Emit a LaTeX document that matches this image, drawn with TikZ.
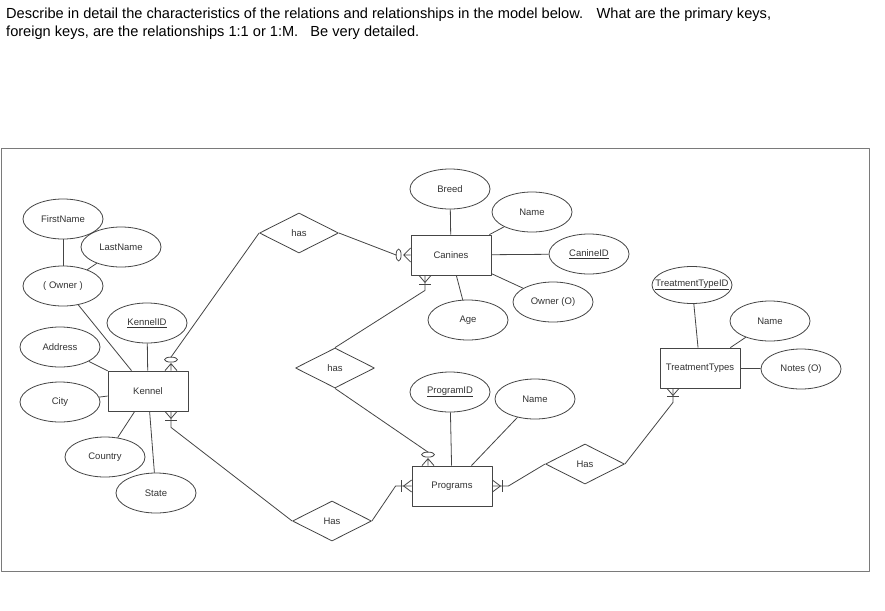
\documentclass[tikz,border=0pt]{standalone}
\usepackage{fontspec}
\setmainfont{Liberation Sans}
\usetikzlibrary{shapes.geometric,calc}
\definecolor{linec}{HTML}{454545}
\definecolor{txtc}{HTML}{333333}
\definecolor{framec}{HTML}{7A7A7A}
\begin{document}
\begin{tikzpicture}[x=1pt,y=-1pt, line join=round,
  every node/.style={font=\fontsize{9.5}{11}\selectfont, text=txtc},
  attr/.style={ellipse, draw=linec, line width=0.8pt, minimum width=80pt, minimum height=40pt, inner sep=0pt},
  ent/.style={rectangle, draw=linec, line width=0.8pt, minimum width=80pt, minimum height=40pt, inner sep=0pt},
  rel/.style={diamond, draw=linec, line width=0.8pt, minimum width=79pt, minimum height=40pt, inner sep=0pt, aspect=2},
  conn/.style={draw=linec, line width=0.8pt},
  hdr/.style={font=\fontsize{14.6}{18}\selectfont, text=black, anchor=base west, inner sep=0pt}]
\useasboundingbox (0,0) rectangle (885,610);
\fill[white] (0,0) rectangle (885,610);

% header
\node[hdr] (h1) at (6,19) {Describe in detail the characteristics of the relations and relationships in the model below.~~ What are the primary keys,};
\node[hdr] (h2) at (6,37) {foreign keys, are the relationships 1:1 or 1:M.~~ Be very detailed.};

% frame
\draw[framec, line width=0.8pt] (1,148) rectangle (869,571);

% entities
\node[ent] (Kennel) at (148,391) {Kennel};
\node[ent] (Canines) at (451,255) {Canines};
\node[ent] (Programs) at (452,486) {Programs};
\node[ent] (TT) at (700,368) {TreatmentTypes};

% relationships
\node[rel] (hasTop) at (299,233) {has};
\node[rel] (hasMid) at (335,368) {has};
\node[rel] (hasBot) at (332,521) {Has};
\node[rel] (hasR) at (585,464) {Has};

% attributes
\node[attr] (FirstName) at (63,219) {FirstName};
\node[attr] (LastName) at (121,247) {LastName};
\node[attr] (Owner) at (63,286) {( Owner )};
\node[attr] (KennelID) at (147,323) {\underline{KennelID}};
\node[attr] (Address) at (60,347) {Address};
\node[attr] (City) at (60,402) {City};
\node[attr] (Country) at (105,457) {Country};
\node[attr] (State) at (156,493) {State};

\node[attr] (Breed) at (450,189) {Breed};
\node[attr] (NameC) at (532,212) {Name};
\node[attr] (CanineID) at (589,254) {\underline{CanineID}};
\node[attr] (OwnerO) at (553,302) {Owner (O)};
\node[attr] (Age) at (468,320) {Age};

\node[attr] (ProgramID) at (450,392) {\underline{ProgramID}};
\node[attr] (NameP) at (535,399) {Name};

\node[attr, minimum height=37pt] (TTID) at (692,285) {\makebox[0pt]{\underline{TreatmentTypeID}}};
\node[attr] (NameT) at (770,321) {Name};
\node[attr] (Notes) at (801,369) {Notes (O)};

% attribute links
\draw[conn] (FirstName) -- (Owner);
\draw[conn] (LastName) -- (Owner);
\draw[conn] (Owner) -- (Kennel);
\draw[conn] (KennelID) -- (Kennel);
\draw[conn] (Address) -- (Kennel);
\draw[conn] (City) -- (Kennel);
\draw[conn] (Country) -- (Kennel);
\draw[conn] (State) -- (Kennel);

\draw[conn] (Breed) -- (Canines);
\draw[conn] (NameC) -- (Canines);
\draw[conn] (CanineID) -- (Canines);
\draw[conn] (OwnerO) -- (Canines);
\draw[conn] (Age) -- (Canines);

\draw[conn] (ProgramID) -- (Programs);
\draw[conn] (NameP) -- (Programs);

\draw[conn] (TTID) -- (TT);
\draw[conn] (NameT) -- (TT);
\draw[conn] (Notes) -- (TT);

% Kennel top: zero or many
\coordinate (kT) at ($(Kennel.north)+(23,0)$);
\coordinate (kTe) at ($(kT)+(0,-11)$);
\coordinate (kTl) at ($(kT)+(0,-13.5)$);
\draw[conn] (hasTop.west) -- (kTl);
\draw[conn] (kTe) ellipse [x radius=6.5pt, y radius=2.5pt];
\draw[conn] ($(kT)+(-6,0)$) -- ($(kT)+(0,-7)$) -- ($(kT)+(6,0)$) ($(kT)+(0,-7)$) -- (kT);

% Canines left: zero or many
\coordinate (cL) at (Canines.west);
\coordinate (cLe) at ($(cL)+(-12,0)$);
\coordinate (cLl) at ($(cL)+(-14.5,0)$);
\draw[conn] (hasTop.east) -- (cLl);
\draw[conn] (cLe) ellipse [x radius=2.5pt, y radius=6pt];
\draw[conn] ($(cL)+(0,-7)$) -- ($(cL)+(-7,0)$) -- ($(cL)+(0,7)$) ($(cL)+(-7,0)$) -- (cL);

% Canines bottom: one or many
\coordinate (cB) at ($(Canines.south)+(-26,0)$);
\draw[conn] ($(cB)+(-6,0)$) -- ($(cB)+(0,7)$) -- ($(cB)+(6,0)$);
\draw[conn] ($(cB)+(-6,9)$) -- ($(cB)+(6,9)$);
\draw[conn] (cB) -- ++(0,15) -- (hasMid.north);

% Programs top: zero or many
\coordinate (pT) at ($(Programs.north)+(-24,0)$);
\coordinate (pTe) at ($(pT)+(0,-11)$);
\coordinate (pTl) at ($(pT)+(0,-13.5)$);
\draw[conn] (hasMid.south) -- (pTl);
\draw[conn] (pTe) ellipse [x radius=6.5pt, y radius=2.5pt];
\draw[conn] ($(pT)+(-6,0)$) -- ($(pT)+(0,-7)$) -- ($(pT)+(6,0)$) ($(pT)+(0,-7)$) -- (pT);

% Kennel bottom: one or many
\coordinate (kB) at ($(Kennel.south)+(23,0)$);
\draw[conn] ($(kB)+(-6,0)$) -- ($(kB)+(0,7)$) -- ($(kB)+(6,0)$);
\draw[conn] ($(kB)+(-6,9)$) -- ($(kB)+(6,9)$);
\draw[conn] (kB) -- ++(0,16) -- (hasBot.west);

% Programs left: one or many
\coordinate (pL) at (Programs.west);
\draw[conn] ($(pL)+(0,-6)$) -- ($(pL)+(-8,0)$) -- ($(pL)+(0,6)$);
\draw[conn] ($(pL)+(-10,-6)$) -- ($(pL)+(-10,6)$);
\draw[conn] (pL) -- ++(-16,0) -- (hasBot.east);

% Programs right: one or many
\coordinate (pR) at (Programs.east);
\draw[conn] ($(pR)+(0,-6)$) -- ($(pR)+(8,0)$) -- ($(pR)+(0,6)$);
\draw[conn] ($(pR)+(10,-6)$) -- ($(pR)+(10,6)$);
\draw[conn] (pR) -- ++(16,0) -- (hasR.west);

% TreatmentTypes bottom: one or many
\coordinate (tB) at ($(TT.south)+(-27,0)$);
\draw[conn] ($(tB)+(-6,0)$) -- ($(tB)+(0,7)$) -- ($(tB)+(6,0)$);
\draw[conn] ($(tB)+(-6,8)$) -- ($(tB)+(6,8)$);
\draw[conn] (tB) -- ++(0,14) -- (hasR.east);
\end{tikzpicture}
\end{document}
